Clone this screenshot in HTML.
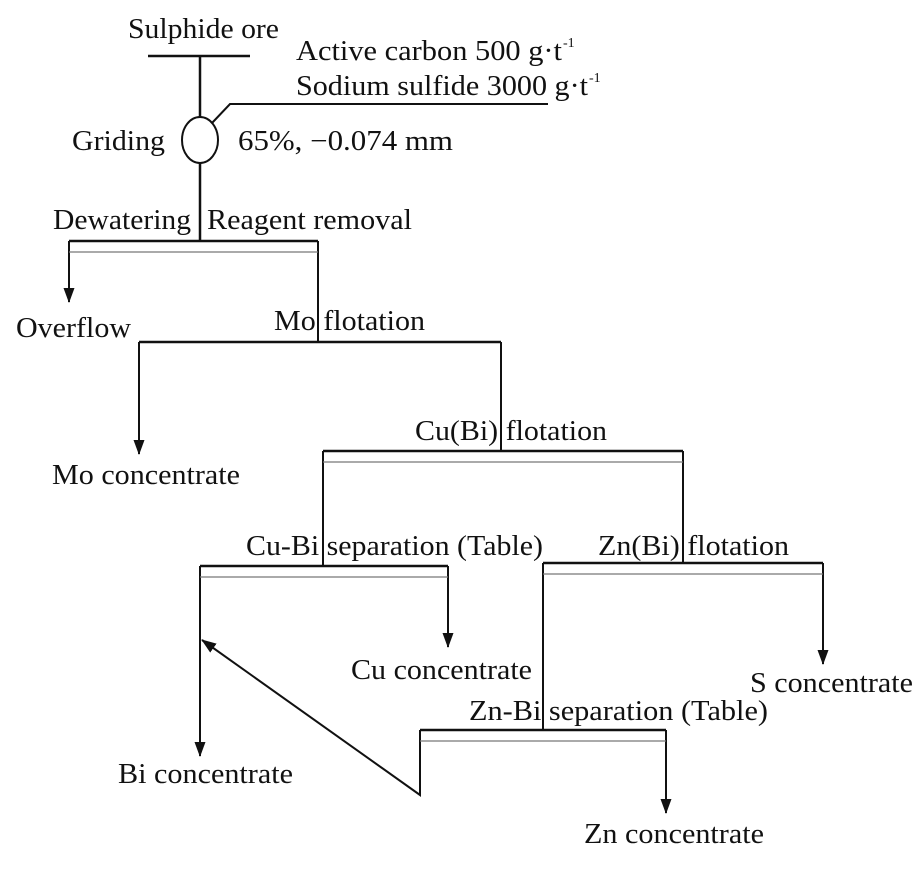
<!DOCTYPE html>
<html><head><meta charset="utf-8"><style>
html,body{margin:0;padding:0;background:#fff;}
svg{display:block}
text{font-family:"Liberation Serif",serif;font-size:28px;fill:#111;}
</style></head><body>
<svg width="919" height="869" viewBox="0 0 919 869" xmlns="http://www.w3.org/2000/svg">
<defs><marker id="a" markerWidth="15" markerHeight="11" refX="14" refY="5.5" orient="auto" markerUnits="userSpaceOnUse"><path d="M0,0 L15,5.5 L0,11 Z" fill="#111"/></marker></defs>
<g stroke="#111" stroke-width="2.5" fill="none">
<line x1="148" y1="56" x2="250" y2="56"/>
<line x1="200" y1="56" x2="200" y2="118"/>
<ellipse cx="200" cy="140" rx="18" ry="23" stroke-width="2"/>
<polyline points="212,123 230,104 548,104" stroke-width="2"/>
<line x1="200" y1="163" x2="200" y2="241"/>
<line x1="69" y1="241" x2="318" y2="241"/>
<line x1="69" y1="241" x2="69" y2="302" marker-end="url(#a)" stroke-width="2"/>
<line x1="318" y1="241" x2="318" y2="342" stroke-width="2"/>
<line x1="139" y1="342" x2="501" y2="342"/>
<line x1="139" y1="342" x2="139" y2="454" marker-end="url(#a)" stroke-width="2"/>
<line x1="501" y1="342" x2="501" y2="451" stroke-width="2"/>
<line x1="323" y1="451" x2="683" y2="451"/>
<line x1="323" y1="451" x2="323" y2="566" stroke-width="2"/>
<line x1="683" y1="451" x2="683" y2="563" stroke-width="2"/>
<line x1="200" y1="566" x2="448" y2="566"/>
<line x1="200" y1="566" x2="200" y2="756" marker-end="url(#a)" stroke-width="2"/>
<line x1="448" y1="566" x2="448" y2="647" marker-end="url(#a)" stroke-width="2"/>
<line x1="543" y1="563" x2="823" y2="563"/>
<line x1="823" y1="563" x2="823" y2="664" marker-end="url(#a)" stroke-width="2"/>
<line x1="543" y1="563" x2="543" y2="730" stroke-width="2"/>
<line x1="420" y1="730" x2="666" y2="730"/>
<line x1="666" y1="730" x2="666" y2="813" marker-end="url(#a)" stroke-width="2"/>
<polyline points="420,730 420,795 202,640" stroke-width="2" marker-end="url(#a)"/>
</g>
<g stroke="#777" stroke-width="1.2">
<line x1="69" y1="252" x2="318" y2="252"/>
<line x1="323" y1="462" x2="683" y2="462"/>
<line x1="200" y1="577" x2="448" y2="577"/>
<line x1="543" y1="574" x2="823" y2="574"/>
<line x1="420" y1="741" x2="666" y2="741"/>
</g>
<g stroke="#111" stroke-width="1.5">
<line x1="318" y1="305" x2="318" y2="340"/>
<line x1="501" y1="416" x2="501" y2="450"/>
<line x1="323" y1="532" x2="323" y2="566"/>
<line x1="683" y1="530" x2="683" y2="563"/>
<line x1="543" y1="698" x2="543" y2="730"/>
<line x1="200" y1="205" x2="200" y2="241"/>
</g>
<text x="128" y="38" textLength="151" lengthAdjust="spacingAndGlyphs">Sulphide ore</text>
<text x="296" y="60" textLength="266" lengthAdjust="spacingAndGlyphs">Active carbon 500 g·t</text>
<text x="563" y="47" style="font-size:14px">-1</text>
<text x="296" y="95" textLength="292" lengthAdjust="spacingAndGlyphs">Sodium sulfide 3000 g·t</text>
<text x="589" y="82" style="font-size:14px">-1</text>
<text x="72" y="150" textLength="93" lengthAdjust="spacingAndGlyphs">Griding</text>
<text x="238" y="150" textLength="215" lengthAdjust="spacingAndGlyphs">65%, −0.074 mm</text>
<text x="53" y="229" textLength="138" lengthAdjust="spacingAndGlyphs">Dewatering</text>
<text x="207" y="229" textLength="205" lengthAdjust="spacingAndGlyphs">Reagent removal</text>
<text x="16" y="337" textLength="115" lengthAdjust="spacingAndGlyphs">Overflow</text>
<text x="274" y="330" textLength="151" lengthAdjust="spacingAndGlyphs">Mo flotation</text>
<text x="52" y="484" textLength="188" lengthAdjust="spacingAndGlyphs">Mo concentrate</text>
<text x="415" y="440" textLength="192" lengthAdjust="spacingAndGlyphs">Cu(Bi) flotation</text>
<text x="246" y="555" textLength="297" lengthAdjust="spacingAndGlyphs">Cu-Bi separation (Table)</text>
<text x="598" y="555" textLength="191" lengthAdjust="spacingAndGlyphs">Zn(Bi) flotation</text>
<text x="351" y="679" textLength="181" lengthAdjust="spacingAndGlyphs">Cu concentrate</text>
<text x="750" y="692" textLength="163" lengthAdjust="spacingAndGlyphs">S concentrate</text>
<text x="469" y="720" textLength="299" lengthAdjust="spacingAndGlyphs">Zn-Bi separation (Table)</text>
<text x="118" y="783" textLength="175" lengthAdjust="spacingAndGlyphs">Bi concentrate</text>
<text x="584" y="843" textLength="180" lengthAdjust="spacingAndGlyphs">Zn concentrate</text>
</svg>
</body></html>
